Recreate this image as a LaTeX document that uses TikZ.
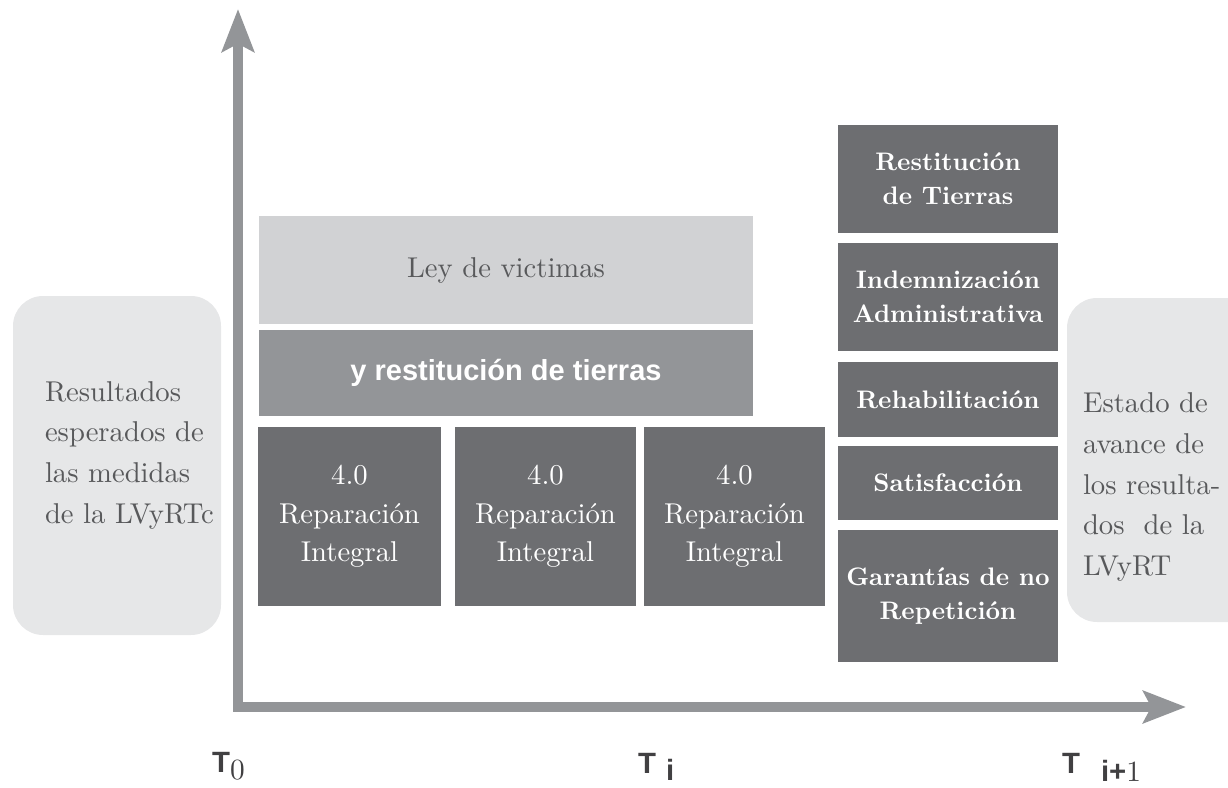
\documentclass[tikz,border=0pt]{standalone}
\usepackage{fontspec}
\setmainfont{lmroman10-regular.otf}[BoldFont=lmroman10-bold.otf]
\newfontfamily\arialf{Liberation Sans}
\usetikzlibrary{arrows.meta}
\definecolor{axisgray}{HTML}{939598}
\definecolor{darkbox}{HTML}{6D6E71}
\definecolor{midbox}{HTML}{939598}
\definecolor{lightbox}{HTML}{D1D2D4}
\definecolor{sidebox}{HTML}{E6E7E8}
\definecolor{txtgray}{HTML}{58595B}
\definecolor{lblgray}{HTML}{414042}
\tikzset{
  every node/.style={inner sep=0pt, outer sep=0pt},
  blockbox/.style={anchor=north west, align=center},
  darkcell/.style={blockbox, fill=darkbox, text=white, minimum width=165pt,
    font=\bfseries\fontsize{19}{25.5}\selectfont},
  repcell/.style={blockbox, fill=darkbox, text=white, minimum height=134.25pt,
    font=\fontsize{21.5}{28.75}\selectfont},
  sidepanel/.style={anchor=north west, fill=sidebox, rounded corners=22.5pt},
  sidetext/.style={anchor=west, align=left, text=txtgray, font=\fontsize{21.5}{30.5}\selectfont},
  axisline/.style={line width=7.5pt, draw=axisgray, line join=miter,
    {Stealth[length=32pt,width=24pt,inset=6pt]}-{Stealth[length=32pt,width=24pt,inset=6pt]}},
  tlbl/.style={anchor=base west, text=lblgray, font=\arialf\bfseries\fontsize{22}{22}\selectfont},
  tsub/.style={anchor=base west, text=lblgray, font=\fontsize{22}{22}\selectfont}
}
\begin{document}
\begin{tikzpicture}[x=0.75pt,y=-0.75pt]
\useasboundingbox (0,0) rectangle (1228,788);
\begin{scope}
\clip (0,0) rectangle (1228,788);
% side panels
\node[sidepanel, minimum width=156pt, minimum height=254.25pt] (leftpanel) at (13,296) {};
\node[sidepanel, minimum width=160pt, minimum height=243pt] (rightpanel) at (1067,298) {};
\end{scope}
\node[sidetext] (lefttext) at (45,455) {Resultados\\esperados de\\las medidas\\de la LVyRTc};
\node[sidetext] (righttext) at (1083,487) {Estado de\\avance de\\los resulta-\\dos\ \ de la\\LVyRT};

% central blocks
\node[blockbox, fill=lightbox, text=txtgray, minimum width=370.5pt, minimum height=81pt,
  font=\fontsize{21.5}{25}\selectfont] (ley) at (259,216) {Ley de victimas};
\node[blockbox, fill=midbox, text=white, minimum width=370.5pt, minimum height=64.5pt,
  font=\arialf\bfseries\fontsize{21.75}{25}\selectfont] (rest) at (259,330) {y restitución de tierras};
\node[repcell, minimum width=137.25pt] (rep1) at (258,427) {4.0\\Reparación\\Integral};
\node[repcell, minimum width=135.75pt] (rep2) at (455,427) {4.0\\Reparación\\Integral};
\node[repcell, minimum width=135.75pt] (rep3) at (644,427) {4.0\\Reparación\\Integral};

% right column
\node[darkcell, minimum height=81pt] (c1) at (838,125) {Restitución\\de Tierras};
\node[darkcell, minimum height=81pt] (c2) at (838,243) {Indemnización\\Administrativa};
\node[darkcell, minimum height=56.25pt] (c3) at (838,362) {Rehabilitación};
\node[darkcell, minimum height=55.5pt] (c4) at (838,446) {Satisfacción};
\node[darkcell, minimum height=99pt] (c5) at (838,530) {Garantías de no\\Repetición};

% axes
\coordinate (ytip) at (238,9);
\coordinate (origin) at (238,707);
\coordinate (xtip) at (1186,707);
\draw[axisline] (ytip) -- (origin) -- (xtip);

% time labels
\node[tlbl] (t0T) at (212,772) {T};
\node[tsub] (t0s) at (230,779) {0};
\node[tlbl] (tiT) at (638,773) {T};
\node[tlbl] (tis) at (666,780) {i};
\node[tlbl] (tnT) at (1062,773) {T};
\node[tlbl] (tns) at (1101,781) {i+\rmfamily\mdseries 1};
\end{tikzpicture}
\end{document}
